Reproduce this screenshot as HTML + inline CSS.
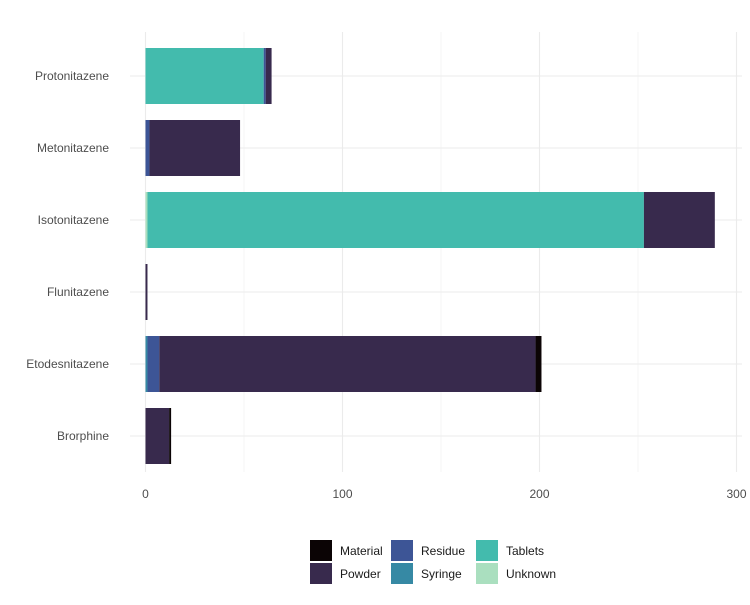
<!DOCTYPE html>
<html><head><meta charset="utf-8"><style>
body{margin:0;background:#fff;font-family:"Liberation Sans",sans-serif}
svg text{font-family:"Liberation Sans",sans-serif;font-size:12px}
</style></head><body>
<svg id="chart" width="750" height="600"></svg>
<script>
const categories=["Protonitazene","Metonitazene","Isotonitazene","Flunitazene","Etodesnitazene","Brorphine"];
const seriesNames=["Unknown","Tablets","Syringe","Residue","Powder","Material"];
const unknownVals=[0,0,1,0,0,0];
const tabletsVals=[60,0,252,0,0,0];
const syringeVals=[0,0,0,0,1,0];
const residueVals=[1,2,0,0,6,0];
const powderVals=[3,46,36,1,191,12];
const materialVals=[0,0,0,0,3,1];
const xTicks=[0,100,200,300];
const colors={Unknown:"#aadfbf",Tablets:"#43bbad",Syringe:"#3689a4",Residue:"#3d5596",Powder:"#382a4d",Material:"#0b0405"};
const legendOrder=["Material","Powder","Residue","Syringe","Tablets","Unknown"];
const ns="http://www.w3.org/2000/svg";
const svg=document.getElementById("chart");
const x=v=>145.5+v*1.97;
const y=i=>76+i*72;
function mk(t,a){const e=document.createElementNS(ns,t);for(const k in a)e.setAttribute(k,a[k]);svg.appendChild(e);return e;}
[50,150,250].forEach(v=>{const l=mk("line",{x1:x(v),x2:x(v),y1:32,y2:472,stroke:"#f0f0f0","stroke-width":0.6});

});
xTicks.forEach(v=>{const l=mk("line",{x1:x(v),x2:x(v),y1:32,y2:472,stroke:"#ebebeb","stroke-width":1.1});


const t=mk("text",{x:x(v),y:498,"text-anchor":"middle",fill:"#4d4d4d"});t.textContent=v;

});
categories.forEach((c,i)=>{const l=mk("line",{x1:130,x2:742,y1:y(i),y2:y(i),stroke:"#ebebeb","stroke-width":1.1});


const t=mk("text",{x:109,y:y(i)+4,"text-anchor":"end",fill:"#4d4d4d"});t.textContent=c;

});
const vals={Unknown:unknownVals,Tablets:tabletsVals,Syringe:syringeVals,Residue:residueVals,Powder:powderVals,Material:materialVals};
categories.forEach((c,i)=>{let acc=0;seriesNames.forEach(s=>{const v=vals[s][i];if(v>0){const r=mk("rect",{x:x(acc),y:y(i)-28,width:x(acc+v)-x(acc),height:56,fill:colors[s]});

}acc+=v;});});
const lx=[310,391,476];
legendOrder.forEach((s,k)=>{const col=Math.floor(k/2),row=k%2;
const r=mk("rect",{x:lx[col],y:540+row*23,width:22,height:21,fill:colors[s]});


const t=mk("text",{x:lx[col]+30,y:555+row*23,fill:"#1a1a1a"});t.textContent=s;

});
</script>
</body></html>
